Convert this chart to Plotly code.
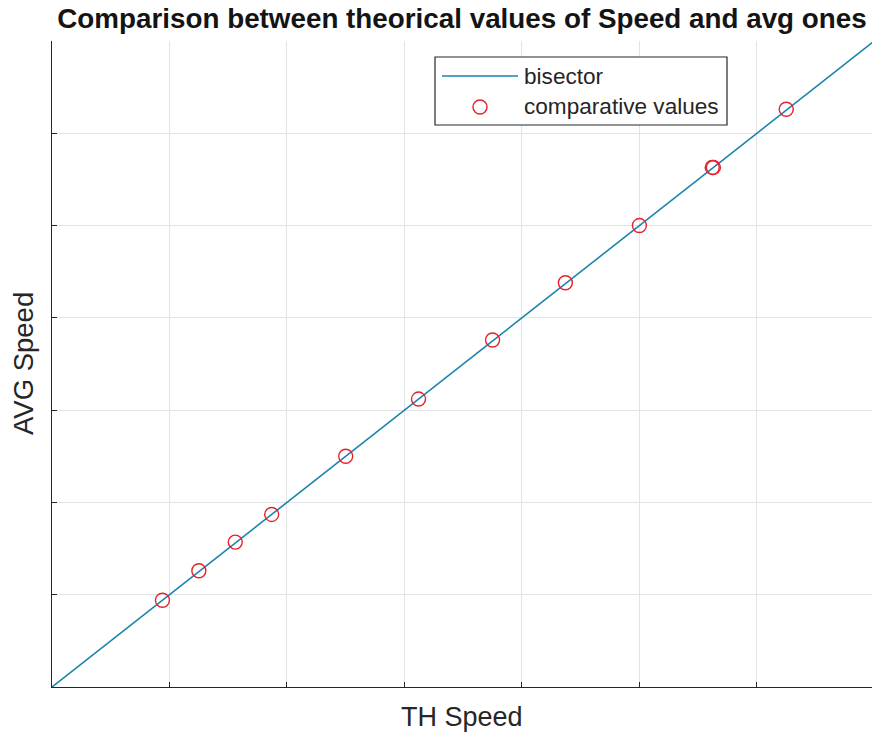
import plotly.graph_objects as go

# Theoretical speed vs. averaged measured speed
th_speed = [0.94, 1.25, 1.56, 1.87, 2.50, 3.12, 3.75, 4.37, 5.00, 5.62, 5.63, 6.25]
avg_speed = [0.94, 1.26, 1.57, 1.87, 2.50, 3.12, 3.76, 4.38, 5.00, 5.63, 5.63, 6.26]

# Reference line y = x
bisector_x = [0, 7]
bisector_y = [0, 7]

tick_vals = [0, 1, 2, 3, 4, 5, 6, 7]

LINE_COLOR = "#1b84ad"
MARKER_COLOR = "#e8202a"
TEXT_COLOR = "#262626"
FONT = "Liberation Sans, Arial, Helvetica, sans-serif"

W, H = 872, 740
ML, MR, MT, MB = 52, 0, 41, 53
PW, PH = W - ML - MR, H - MT - MB


def px_x(px):
    return (px - ML) / PW


def px_y(py):
    return (H - MB - py) / PH


fig = go.Figure()
fig.add_trace(go.Scatter(
    x=bisector_x, y=bisector_y, mode="lines", name="bisector",
    line=dict(color=LINE_COLOR, width=1.6), showlegend=False,
))
fig.add_trace(go.Scatter(
    x=th_speed, y=avg_speed, mode="markers", name="comparative values",
    marker=dict(symbol="circle-open", size=14, color=MARKER_COLOR,
                line=dict(width=1.4, color=MARKER_COLOR)),
    showlegend=False,
))

axis_common = dict(
    tickvals=tick_vals, showticklabels=False,
    ticks="inside", ticklen=5, tickwidth=1, tickcolor="#262626",
    showgrid=True, gridcolor="#e3e3e3", gridwidth=1,
    zeroline=False, showline=True, linecolor="#262626", linewidth=1.3,
    mirror=False, fixedrange=True,
)
fig.update_xaxes(range=[0, 6.98], **axis_common)
fig.update_yaxes(range=[0, 7], **axis_common)

# Legend box drawn by hand so the line sample keeps its long MATLAB-style length
shapes = [
    dict(type="rect", xref="paper", yref="paper",
         x0=px_x(435), x1=px_x(727), y0=px_y(125), y1=px_y(57),
         line=dict(color="#262626", width=1.2), fillcolor="white", layer="above"),
    dict(type="line", xref="paper", yref="paper",
         x0=px_x(442), x1=px_x(518), y0=px_y(76), y1=px_y(76),
         line=dict(color=LINE_COLOR, width=1.6), layer="above"),
    dict(type="circle", xref="paper", yref="paper",
         x0=px_x(480) - 7 / PW, x1=px_x(480) + 7 / PW,
         y0=px_y(107) - 7 / PH, y1=px_y(107) + 7 / PH,
         line=dict(color=MARKER_COLOR, width=1.4), layer="above"),
]

annotations = [
    dict(text="bisector", xref="paper", yref="paper", x=px_x(522), y=px_y(77),
         xanchor="left", yanchor="middle", showarrow=False,
         font=dict(family=FONT, size=22.6, color=TEXT_COLOR)),
    dict(text="comparative values", xref="paper", yref="paper", x=px_x(522), y=px_y(107),
         xanchor="left", yanchor="middle", showarrow=False,
         font=dict(family=FONT, size=22.6, color=TEXT_COLOR)),
    dict(text="TH Speed", xref="paper", yref="paper", x=0.5, y=px_y(717),
         xanchor="center", yanchor="middle", showarrow=False,
         font=dict(family=FONT, size=27, color=TEXT_COLOR)),
    dict(text="AVG Speed", xref="paper", yref="paper", x=px_x(23), y=0.5,
         xanchor="center", yanchor="middle", showarrow=False, textangle=-90,
         font=dict(family=FONT, size=27.5, color=TEXT_COLOR)),
]

fig.update_layout(
    width=W, height=H,
    margin=dict(l=ML, r=MR, t=MT, b=MB),
    paper_bgcolor="white", plot_bgcolor="white",
    title=dict(text="Comparison between theorical values of Speed and avg ones",
               x=0.5, xref="paper", y=1 - 18 / H, yref="container",
               xanchor="center", yanchor="middle",
               font=dict(family=FONT, size=27.8, weight="bold", color="#141414")),
    shapes=shapes, annotations=annotations, showlegend=False,
)

fig.write_html("out.html")
